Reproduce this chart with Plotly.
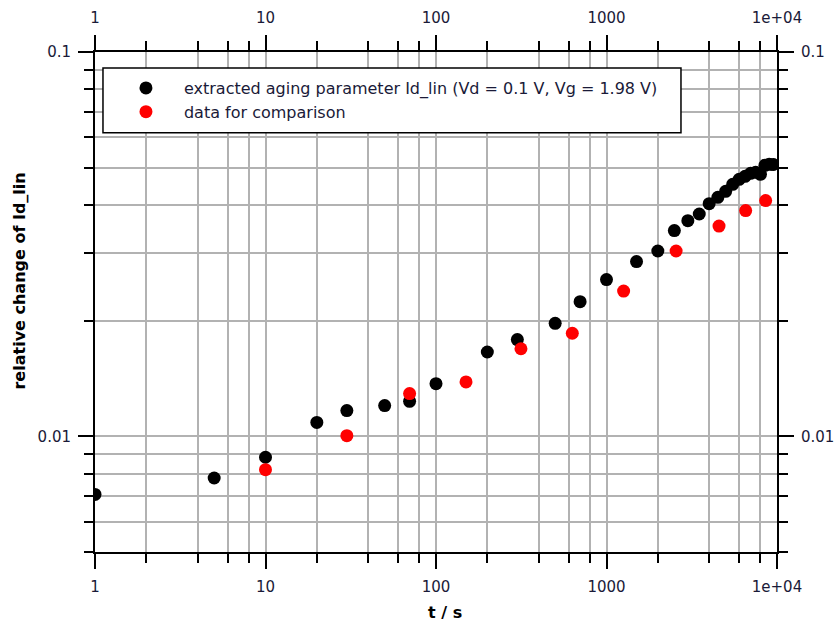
import math
import plotly.graph_objects as go

# ---- data ----
t_extracted = [1, 5, 10, 20, 30, 50, 70, 100, 200, 300, 500, 700, 1000, 1500, 2000,
               2500, 3000, 3500, 4000, 4500, 5000, 5500, 6000, 6500, 7000, 7500,
               8000, 8500, 9000, 9500]
d_extracted = [0.00706, 0.00779, 0.00882, 0.01087, 0.01167, 0.01202, 0.01233, 0.01371,
               0.01657, 0.01785, 0.01968, 0.02241, 0.02557, 0.02849, 0.03035,
               0.0343, 0.03641, 0.03789, 0.0403, 0.04186, 0.0434, 0.04525, 0.04663,
               0.04748, 0.04835, 0.04864, 0.04806, 0.05072, 0.05103, 0.05095]

t_compare = [10, 30, 70, 150, 315, 630, 1260, 2560, 4570, 6550, 8580]
d_compare = [0.00819, 0.01004, 0.01292, 0.01385, 0.0169, 0.01854, 0.02388, 0.03035,
             0.03525, 0.03867, 0.04106]

x_ticks = [1, 10, 100, 1000, 10000]
x_ticktext = ["1", "10", "100", "1000", "1e+04"]
y_ticks = [0.01, 0.1]
y_ticktext = ["0.01", "0.1"]
x_minor = [m * 10 ** d for d in range(4) for m in (2, 4, 6, 8)]
y_minor = [m * 10 ** d for d in (-3, -2) for m in range(2, 10)]

name_extracted = "extracted aging parameter Id_lin (Vd = 0.1 V, Vg = 1.98 V)"
name_compare = "data for comparison"

FONT = "DejaVu Sans"
TXT = "#1a1a38"
GRID = "#b2b2b2"

fig = go.Figure()
fig.add_trace(go.Scatter(x=t_extracted, y=d_extracted, mode="markers", name=name_extracted,
                         marker=dict(color="black", size=13)))
fig.add_trace(go.Scatter(x=t_compare, y=d_compare, mode="markers", name=name_compare,
                         marker=dict(color="#ff0000", size=13)))
# invisible helper trace so top/right axes are drawn
fig.add_trace(go.Scatter(x=t_extracted, y=d_extracted, mode="markers", xaxis="x2", yaxis="y2",
                         marker=dict(opacity=0), showlegend=False, hoverinfo="skip"))

xr = [0, 4]
yr = [math.log10(0.005), -1]


def axis(kind, standoff):
    vals, text, rng = (x_ticks, x_ticktext, xr) if kind == "x" else (y_ticks, y_ticktext, yr)
    return dict(type="log", range=rng, showline=True, linecolor="black", linewidth=2,
                ticks="outside", ticklen=15, tickwidth=2, tickcolor="black",
                tickvals=vals, ticktext=text, zeroline=False, ticklabelstandoff=standoff,
                automargin=False,
                tickfont=dict(family=FONT, size=15, color=TXT))


def minor(kind, grid):
    return dict(tickvals=x_minor if kind == "x" else y_minor, showgrid=grid,
                gridcolor=GRID, gridwidth=1.5,
                ticks="outside", ticklen=9, tickwidth=1.5, tickcolor="black")


fig.update_layout(
    width=840, height=623,
    margin=dict(l=95, r=63, t=52, b=71, autoexpand=False),
    plot_bgcolor="white", paper_bgcolor="white",
    xaxis=dict(**axis("x", 5), showgrid=True, gridcolor=GRID, gridwidth=1.5, minor=minor("x", True)),
    yaxis=dict(**axis("y", 4), showgrid=True, gridcolor=GRID, gridwidth=1.5, minor=minor("y", True)),
    xaxis2=dict(**axis("x", 6), overlaying="x", side="top", anchor="y", showgrid=False,
                minor=minor("x", False)),
    yaxis2=dict(**axis("y", 4), overlaying="y", side="right", anchor="x", showgrid=False,
                minor=minor("y", False)),
    showlegend=True,
    legend=dict(x=0.019, y=0.962, xanchor="left", yanchor="top",
                bgcolor="rgba(0,0,0,0)", borderwidth=0,
                font=dict(family=FONT, size=16, color=TXT),
                itemwidth=66, tracegroupgap=0),
    shapes=[dict(type="rect", xref="paper", yref="paper", x0=0.0117, x1=0.8592,
                 y0=0.8383, y1=0.968, line=dict(color="black", width=1.5),
                 fillcolor="white", layer="above")],
    annotations=[
        dict(text="<b>t / s</b>", xref="paper", yref="paper", x=(445 - 95) / 682, y=-0.12,
             xanchor="center", yanchor="middle", showarrow=False,
             font=dict(family=FONT, size=16, color="black")),
        dict(text="<b>relative change of Id_lin</b>", xref="paper", yref="paper",
             x=-0.11, y=(552 - 280) / 501, textangle=-90, xanchor="center", yanchor="middle",
             showarrow=False, font=dict(family=FONT, size=16, color="black")),
    ],
)

fig.write_html("out.html")
